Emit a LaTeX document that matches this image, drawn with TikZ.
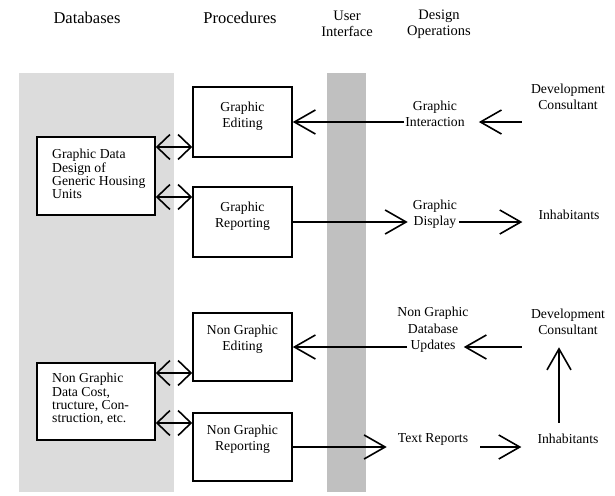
\documentclass[tikz,border=0pt]{standalone}
\usepackage{fontspec}
\setmainfont{Liberation Serif}
\usetikzlibrary{arrows.meta,calc}
\definecolor{lightpanel}{HTML}{DCDCDC}
\definecolor{darkpanel}{HTML}{C0C0C0}
\begin{document}
\begin{tikzpicture}[x=1pt,y=-1pt,
  pbox/.style={draw,line width=1.6pt,fill=white,minimum width=99pt,minimum height=70pt,inner sep=0pt},
  dbox/.style={draw,line width=1.6pt,fill=white,minimum width=118pt,minimum height=78pt,inner sep=0pt},
  txt/.style={font=\fontsize{13.7}{16.5}\selectfont,align=center,inner sep=1pt},
  dtxt/.style={font=\fontsize{13.7}{13.2}\selectfont,align=left,anchor=west,inner sep=0pt},
  hdr/.style={font=\fontsize{16.5}{19}\selectfont},
  hdrs/.style={font=\fontsize{14.5}{16}\selectfont,align=center},
  big/.style={line width=1.6pt,-{Straight Barb[length=21pt,width=24pt]}},
  dbl/.style={line width=1.6pt,{Straight Barb[length=13pt,width=25pt]}-{Straight Barb[length=13pt,width=25pt]}}
]
\useasboundingbox (0,0) rectangle (615,495);
% panels
\fill[lightpanel] (19,73) rectangle (174,492);
\fill[darkpanel] (327,73) rectangle (366,492);
% headers
\node[hdr] (hdb) at (87,18) {Databases};
\node[hdr] (hpr) at (240,18) {Procedures};
\node[hdrs] (hui) at (347,24) {User\\Interface};
\node[hdrs] (hdo) at (439,24) {Design\\Operations};
% boxes
\node[pbox] (ge) at (242.5,122) {};
\node[pbox] (gr) at (242.5,222) {};
\node[pbox,minimum height=68pt] (ne) at (242.5,347) {};
\node[pbox,minimum height=68pt] (nr) at (242.5,447) {};
\node[dbox] (gd) at (96,176) {};
\node[dbox,minimum height=77pt] (nd) at (96,401.5) {};
% box texts
\node[txt] (geT) at (242.5,116) {Graphic\\Editing};
\node[txt] (grT) at (242.5,216) {Graphic\\Reporting};
\node[txt] (neT) at (242.5,339) {Non Graphic\\Editing};
\node[txt] (nrT) at (242.5,439) {Non Graphic\\Reporting};
\node[dtxt] (gdT) at (52,174) {Graphic Data\\Design of\\Generic Housing\\Units};
\node[dtxt] (ndT) at (52,399) {Non Graphic\\Data Cost,\\tructure, Con-\\struction, etc.};
% double arrows
\coordinate (y1) at (0,147);
\coordinate (y2) at (0,197);
\coordinate (y3) at (0,373);
\coordinate (y4) at (0,423);
\draw[dbl] (gd.east |- y1) -- (ge.west |- y1);
\draw[dbl] (gd.east |- y2) -- (gr.west |- y2);
\draw[dbl] (nd.east |- y3) -- (ne.west |- y3);
\draw[dbl] (nd.east |- y4) -- (nr.west |- y4);
% right side texts
\node[txt] (gi) at (435,114) {Graphic\\Interaction};
\node[txt] (dc1) at (568,97) {Development\\Consultant};
\node[txt] (gdisp) at (435,214) {Graphic\\Display};
\node[txt] (inh1) at (569,215) {Inhabitants};
\node[txt] (upd) at (433,330) {Non Graphic\\Database\\Updates};
\node[txt] (dc2) at (568,322) {Development\\Consultant};
\node[txt] (tr) at (433,439) {Text Reports};
\node[txt] (inh2) at (568,439) {Inhabitants};
% arrows
\draw[big] (gi.west |- ge.east) -- (ge.east);
\draw[big] ($(dc1.west |- ge.east)+(-8,0)$) -- ($(gi.east |- ge.east)+(13,0)$);
\draw[big] (gr.east) -- ($(gdisp.west |- gr.east)+(-4,0)$);
\draw[big] ($(gdisp.east |- gr.east)+(1,0)$) -- ($(inh1.west |- gr.east)+(-15,0)$);
\draw[big] ($(upd.west |- ne.east)+(11,0)$) -- (ne.east);
\draw[big] ($(dc2.west |- ne.east)+(-8,0)$) -- ($(upd.east |- ne.east)+(-6,0)$);
\draw[big] (nr.east) -- ($(tr.west |- nr.east)+(-10,0)$);
\draw[big] ($(tr.east |- nr.east)+(11,0)$) -- ($(inh2.west |- nr.east)+(-15,0)$);
\draw[big] ($(inh2.north)+(-9,-10)$) -- ($(dc2.south)+(-9,11)$);
\end{tikzpicture}
\end{document}
